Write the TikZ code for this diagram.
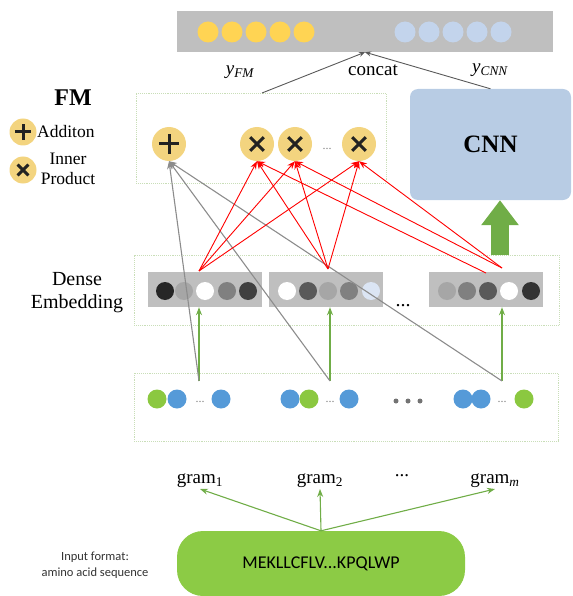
\documentclass[tikz,border=0pt]{standalone}
\usepackage{fontspec}
\setmainfont{Liberation Serif}
\newfontfamily\calib{Carlito}
\usetikzlibrary{arrows.meta,calc}

\definecolor{opfill}{HTML}{F3D47F}
\definecolor{baryellow}{HTML}{FFD453}
\definecolor{barblue}{HTML}{C3D4EC}
\definecolor{bargray}{HTML}{BFBFBF}
\definecolor{cnnblue}{HTML}{B8CCE4}
\definecolor{arrowgreen}{HTML}{70AD47}
\definecolor{seqgreen}{HTML}{8CCB45}
\definecolor{tokblue}{HTML}{559AD8}
\definecolor{tokgreen}{HTML}{8BC840}
\definecolor{dashgreen}{HTML}{C9DEB8}
\definecolor{glyph}{HTML}{222222}

\begin{document}
\begin{tikzpicture}[x=1pt,y=-1pt,
  dashbox/.style={draw=dashgreen, densely dotted, line width=0.9pt, inner sep=0pt},
  embbox/.style={fill=bargray, inner sep=0pt, minimum width=114pt, minimum height=35pt},
  dcirc/.style={circle, inner sep=0pt, minimum size=18pt, fill=#1},
  tok/.style={circle, inner sep=0pt, minimum size=19pt, fill=#1},
  topdot/.style={circle, inner sep=0pt, minimum size=21pt, fill=#1},
  opnode/.style={circle, inner sep=0pt, minimum size=#1, fill=opfill},
  plusop/.style={opnode=#1, path picture={
      \draw[glyph, line width=3pt]
        (path picture bounding box.center) +(-0.3*#1,0pt) -- +(0.3*#1,0pt)
        (path picture bounding box.center) +(0pt,-0.3*#1) -- +(0pt,0.3*#1);}},
  timesop/.style={opnode=#1, path picture={
      \draw[glyph, line width=3pt]
        (path picture bounding box.center) +(-0.2*#1,-0.2*#1) -- +(0.2*#1,0.2*#1)
        (path picture bounding box.center) +(-0.2*#1,0.2*#1) -- +(0.2*#1,-0.2*#1);}},
  redarr/.style={draw=red, line width=0.9pt, -{Stealth[length=8pt,width=6pt]}},
  grayarr/.style={draw=black!45, line width=1.1pt, -{Stealth[length=8pt,width=6pt]}},
  greenarr/.style={draw=arrowgreen, line width=1.1pt, -{Stealth[length=8pt,width=6pt]}},
  catarr/.style={draw=black!65, line width=0.9pt, -{Stealth[length=6pt,width=5pt]}},
  lbl/.style={font=\fontsize{19}{22}\selectfont, inner sep=1pt},
  smalldots/.style={text=black!50, font=\fontsize{12}{12}\selectfont, inner sep=0pt}
]
\useasboundingbox (0,0) rectangle (572,596);

% ---------- output vector ----------
\node[fill=bargray, inner sep=0pt, minimum width=376pt, minimum height=41pt] (bar) at (365,31.5) {};
\foreach \x [count=\i] in {208,232,256,280,304}
  \node[topdot=baryellow] (fmout\i) at (\x,32) {};
\foreach \x [count=\i] in {405,429,453,477,501}
  \node[topdot=barblue] (cnnout\i) at (\x,32) {};

% ---------- FM block ----------
\node[dashbox, minimum width=250pt, minimum height=90pt] (fmbox) at (261,138) {};
\node[plusop=34pt] (plus) at (169,144) {};
\node[timesop=34pt] (x1) at (257,144) {};
\node[timesop=34pt] (x2) at (295,144) {};
\node[timesop=34pt] (x3) at (359,144) {};
\node[smalldots] (xdots) at (327,149) {...};

% legend
\node[font=\fontsize{24}{26}\selectfont\bfseries] (fmtitle) at (73,98) {FM};
\node[plusop=27pt] (lplus) at (23,132) {};
\node[timesop=27pt] (ltimes) at (23,170) {};
\node[font=\fontsize{17.5}{20}\selectfont, anchor=west, inner sep=0pt] (ladd) at (37,132) {Additon};
\node[font=\fontsize{17.5}{19.5}\selectfont, align=center, inner sep=0pt] (linner) at (68,169) {Inner\\Product};

% ---------- CNN ----------
\node[fill=cnnblue, rounded corners=8pt, inner sep=0pt, minimum width=161pt, minimum height=111pt,
      font=\fontsize{25}{28}\selectfont\bfseries] (cnn) at (490.5,144.5) {CNN};
\coordinate (cnnin) at (500,255);
\draw[arrowgreen, line width=18pt, -{Triangle[length=25pt,width=36pt]}] (cnnin) -- (cnnin |- cnn.south);

% concat connectors
\coordinate (yfm) at (262,93);
\draw[catarr] (yfm) -- (bar.south);
\draw[catarr] (cnn.north) -- (bar.south);
\node[lbl] (ylabfm) at (240,72) {\itshape y\textsubscript{FM}};
\node[lbl] (concat) at (373,70) {concat};
\node[lbl] (ylabcnn) at (490,70) {\itshape y\textsubscript{CNN}};

% ---------- dense embedding ----------
\node[dashbox, minimum width=425pt, minimum height=70pt] (densebox) at (346.5,290) {};
\node[font=\fontsize{20}{23}\selectfont, align=center, inner sep=0pt] (denselbl) at (77,293) {Dense\\Embedding};

\node[embbox] (e1) at (205,289.5) {};
\node[embbox] (e2) at (326,289.5) {};
\node[embbox] (e3) at (486,289.5) {};
\foreach \x/\c [count=\i] in {165/black!85, 184/black!35, 205/white, 227/black!50, 248/black!75}
  \node[dcirc=\c] (ea\i) at (\x,291) {};
\foreach \x/\c [count=\i] in {287/white, 308/black!65, 328/black!35, 349/black!50, 371/barblue!60}
  \node[dcirc=\c] (eb\i) at (\x,291) {};
\foreach \x/\c [count=\i] in {447/black!35, 467/black!50, 488/black!65, 509/white, 531/black!80}
  \node[dcirc=\c] (ec\i) at (\x,291) {};
\node[font=\fontsize{20}{20}\selectfont, inner sep=0pt] (edots) at (403,306) {...};

% ---------- token groups ----------
\node[dashbox, minimum width=424pt, minimum height=68pt] (tokbox) at (346,407) {};
\node[tok=tokgreen] (ta1) at (157,399) {};
\node[tok=tokblue]  (ta2) at (177,399) {};
\node[smalldots]    (tad) at (200,402) {...};
\node[tok=tokblue]  (ta3) at (221,399) {};
\node[tok=tokblue]  (tb1) at (290,399) {};
\node[tok=tokgreen] (tb2) at (309,399) {};
\node[smalldots]    (tbd) at (330,402) {...};
\node[tok=tokblue]  (tb3) at (349,399) {};
\node[tok=tokblue]  (tc1) at (463,399) {};
\node[tok=tokblue]  (tc2) at (481,399) {};
\node[smalldots]    (tcd) at (502,402) {...};
\node[tok=tokgreen] (tc3) at (524,399) {};
\foreach \x [count=\i] in {396,408,420}
  \fill[black!55] (\x,401) circle (2.5pt);

\coordinate (g1) at (199,381);
\coordinate (g2) at (330,381);
\coordinate (g3) at (502,381);

% embedding lookups
\draw[greenarr] (g1) -- (g1 |- e1.south);
\draw[greenarr] (g2) -- (g2 |- e2.south);
\draw[greenarr] (g3) -- (g3 |- e3.south);

% first-order terms to the addition node
\draw[grayarr] (g1) -- (plus.south);
\draw[grayarr] (g2) -- (plus.south);
\draw[grayarr] (g3) -- (plus.south);

% pairwise inner products
\coordinate (r1) at (199,271);
\coordinate (r2) at (328,269);
\coordinate (r3a) at (486,273);
\coordinate (r3b) at (502,268);
\foreach \s in {r1,r2} {
  \draw[redarr] (\s) -- (x1.south);
  \draw[redarr] (\s) -- (x2.south);
  \draw[redarr] (\s) -- (x3.south);
}
\draw[redarr] (r3a) -- (x1.south);
\draw[redarr] (r3b) -- (x2.south);
\draw[redarr] (r3b) -- (x3.south);

% ---------- n-grams and input ----------
\node[lbl, anchor=south] (gram1) at (200,489) {gram\textsubscript{1}};
\node[lbl, anchor=south] (gram2) at (320,489) {gram\textsubscript{2}};
\node[lbl] (gramdots) at (402,476) {...};
\node[lbl, anchor=south] (gramm) at (495,489) {gram\textsubscript{\itshape m}};

\node[fill=seqgreen, rounded corners=26pt, inner sep=0pt, minimum width=288pt, minimum height=65pt,
      font=\calib\fontsize{18}{20}\selectfont] (seq) at (321,563.5) {MEKLLCFLV...KPQLWP};
\draw[greenarr] (seq.north) -- (gram1.south);
\draw[greenarr] (seq.north) -- (gram2.south);
\draw[greenarr] (seq.north) -- (gramm.south);

\node[font=\calib\fontsize{12.5}{16}\selectfont, text=black!80, align=center, inner sep=0pt] (fmtlbl) at (95,565)
  {Input format:\\amino acid sequence};
\end{tikzpicture}
\end{document}
